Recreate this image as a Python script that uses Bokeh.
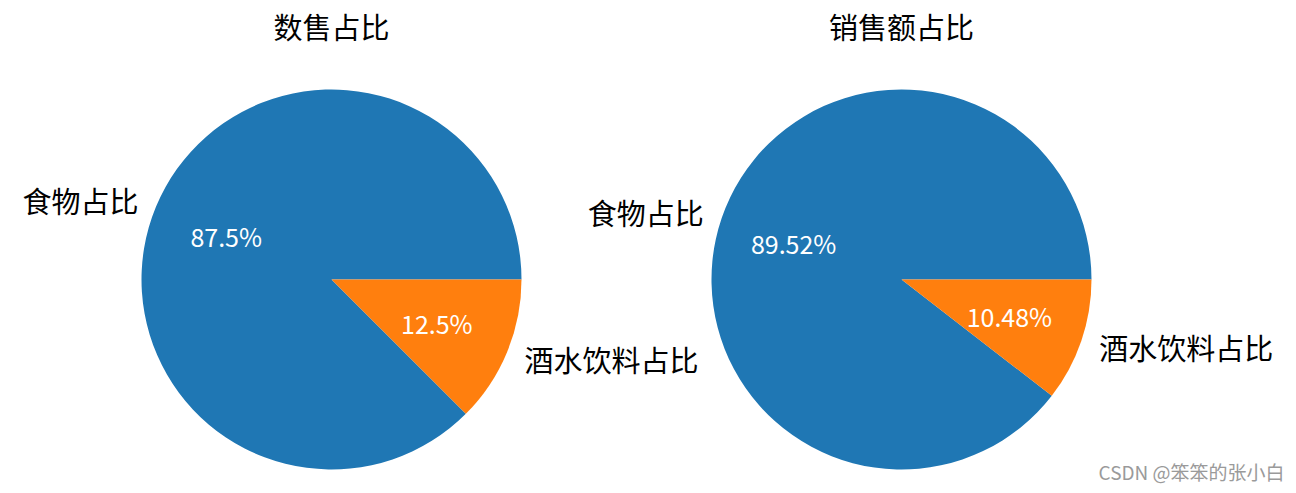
import numpy as np
from bokeh.plotting import figure
from bokeh.models import Range1d
from bokeh.core.properties import value
from bokeh.embed import file_html
from bokeh.resources import INLINE

titles = ["数售占比", "销售额占比"]
categories = ["食物占比", "酒水饮料占比"]
left_values = [87.5, 12.5]
right_values = [89.52, 10.48]
left_pct = ["87.5%", "12.5%"]
right_pct = ["89.52%", "10.48%"]
colors = ["#1f77b4", "#ff7f0e"]

W, H = 1288, 485
p = figure(width=W, height=H, output_backend="svg", toolbar_location=None,
           x_range=Range1d(0, W), y_range=Range1d(8, 8 + H),
           min_border=0, outline_line_color=None, background_fill_color="white")
p.axis.visible = False
p.grid.visible = False

FONT = value("Noto Sans CJK SC")
R = 190.0
centers = [(331.0, 493 - 279.0), (901.0, 493 - 279.0)]

for (cx, cy), vals, pcts, title in zip(centers, [left_values, right_values],
                                        [left_pct, right_pct], titles):
    v = np.array(vals, dtype=float)
    frac = v / v.sum()
    ends = np.cumsum(frac) * 2 * np.pi
    starts = np.concatenate([[0.0], ends[:-1]])
    mids = (starts + ends) / 2
    p.wedge(x=[cx] * len(v), y=[cy] * len(v), radius=R,
            start_angle=list(starts), end_angle=list(ends),
            fill_color=colors, line_color=None)
    # category labels
    lx = cx + 1.1 * R * np.cos(mids)
    ly = cy + 1.1 * R * np.sin(mids)
    aligns = ["right" if np.cos(m) < 0 else "left" for m in mids]
    for x, y, t, a in zip(lx, ly, categories, aligns):
        p.text(x=[x], y=[y], text=[t], text_font=FONT, text_font_size="29px",
               text_color="#000000", text_align=a, text_baseline="middle")
    # percent labels
    px = cx + 0.6 * R * np.cos(mids)
    py = cy + 0.6 * R * np.sin(mids)
    p.text(x=list(px), y=list(py), text=pcts, text_font=FONT, text_font_size="25px",
           text_color="white", text_align="center", text_baseline="middle")
    # title
    p.text(x=[cx], y=[493 - 25], text=[title], text_font=FONT, text_font_size="29px",
           text_color="#000000", text_align="center", text_baseline="middle")

p.text(x=[1284], y=[493 - 471], text=["CSDN @笨笨的张小白"], text_font=FONT,
       text_font_size="19px", text_color="#9a9a9a", text_align="right",
       text_baseline="middle")

open("out.html", "w").write(file_html(p, INLINE))
